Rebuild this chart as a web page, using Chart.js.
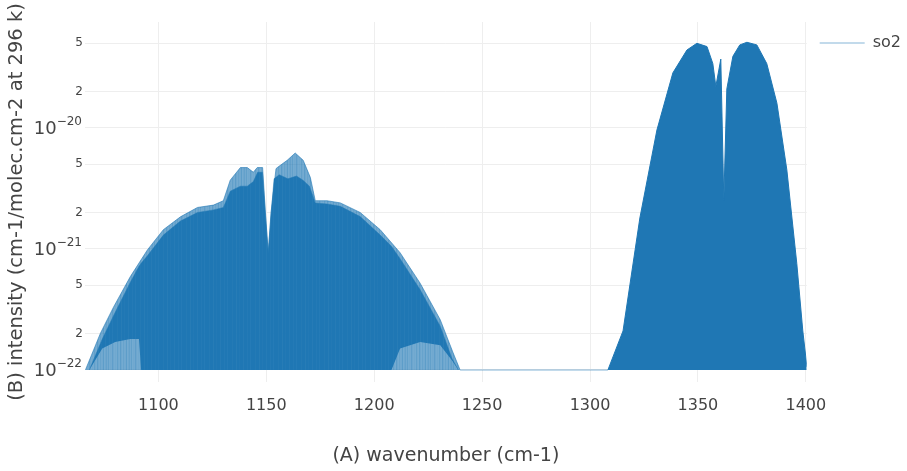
<!DOCTYPE html>
<html>
<head>
<meta charset="utf-8">
<script src="https://cdn.jsdelivr.net/npm/chart.js@4/dist/chart.umd.min.js"></script>
<style>
  html, body { margin: 0; padding: 0; background: #fff; }
  #wrap { width: 907px; height: 471px; }
</style>
</head>
<body>
<div id="wrap"><canvas id="chart" width="907" height="471"></canvas></div>
<script>
// tick labels
const xTicks = [1100, 1150, 1200, 1250, 1300, 1350, 1400];
const yTicks = [1e-22, 2e-22, 5e-22, 1e-21, 2e-21, 5e-21, 1e-20, 2e-20, 5e-20];

// left band - outer envelope of the sticks
const leftWn = [1066.2, 1073.1, 1079.2, 1087.0, 1094.9, 1102.3, 1110.2, 1118.1, 1125.5, 1130.1,
  1133.3, 1138.0, 1141.2, 1144.0, 1145.8, 1148.3, 1149.6, 1150.9, 1152.2, 1154.5,
  1155.1, 1159.7, 1163.4, 1167.1, 1170.4, 1172.7, 1178.2, 1184.3, 1193.5, 1202.8,
  1212.0, 1221.3, 1230.6, 1236.6, 1239.8];
const leftOuter = [1.0e-22, 2.0e-22, 3.3e-22, 5.9e-22, 9.8e-22, 1.44e-21, 1.84e-21, 2.2e-21, 2.3e-21, 2.5e-21,
  3.7e-21, 4.7e-21, 4.7e-21, 4.3e-21, 4.7e-21, 4.7e-21, 2.0e-21, 9.3e-22, 2.0e-21, 4.6e-21,
  4.7e-21, 5.4e-21, 6.2e-21, 5.4e-21, 3.9e-21, 2.5e-21, 2.5e-21, 2.4e-21, 2.0e-21, 1.44e-21,
  9.3e-22, 5.2e-22, 2.6e-22, 1.38e-22, 1.0e-22];

// left band - dense (dark) part, top and bottom
const leftInnerWn = [1068.0, 1074.0, 1080.0, 1087.0, 1091.0, 1092.0, 1095.0, 1102.3, 1110.2, 1118.1,
  1125.5, 1130.1, 1133.3, 1138.0, 1141.2, 1144.0, 1146.0, 1148.2, 1149.6, 1150.9,
  1152.2, 1153.6, 1156.0, 1160.0, 1164.0, 1167.0, 1170.0, 1172.7, 1178.2, 1184.3,
  1193.5, 1202.8, 1208.0, 1212.0, 1221.3, 1230.6, 1236.0, 1239.0];
const leftInnerTop = [1.0e-22, 1.8e-22, 3.0e-22, 5.3e-22, 7.2e-22, 7.6e-22, 8.8e-22, 1.3e-21, 1.7e-21, 2.0e-21,
  2.1e-21, 2.2e-21, 3.0e-21, 3.3e-21, 3.3e-21, 3.6e-21, 4.3e-21, 4.3e-21, 1.9e-21, 9.3e-22,
  1.9e-21, 3.8e-21, 4.1e-21, 3.8e-21, 4.0e-21, 3.7e-21, 3.3e-21, 2.4e-21, 2.35e-21, 2.25e-21,
  1.85e-21, 1.3e-21, 1.05e-21, 8.3e-22, 4.6e-22, 2.3e-22, 1.25e-22, 1.0e-22];
const leftInnerFloor = [1.0e-22, 1.5e-22, 1.7e-22, 1.8e-22, 1.8e-22, 1.0e-22, 1.0e-22, 1.0e-22, 1.0e-22, 1.0e-22,
  1.0e-22, 1.0e-22, 1.0e-22, 1.0e-22, 1.0e-22, 1.0e-22, 1.0e-22, 1.0e-22, 1.0e-22, 1.0e-22,
  1.0e-22, 1.0e-22, 1.0e-22, 1.0e-22, 1.0e-22, 1.0e-22, 1.0e-22, 1.0e-22, 1.0e-22, 1.0e-22,
  1.0e-22, 1.0e-22, 1.0e-22, 1.5e-22, 1.7e-22, 1.6e-22, 1.2e-22, 1.0e-22];

// right band
const rightWn = [1308.3, 1315.3, 1323.1, 1331.0, 1338.4, 1344.9, 1349.5, 1354.2, 1356.9, 1358.3,
  1360.6, 1362.0, 1363.4, 1366.2, 1369.4, 1372.7, 1377.3, 1381.9, 1386.6, 1391.2,
  1395.8, 1398.6, 1400.5];
const rightTop = [1.0e-22, 2.1e-22, 1.8e-21, 9.6e-21, 2.85e-20, 4.4e-20, 5.0e-20, 4.7e-20, 3.4e-20, 2.2e-20,
  3.7e-20, 2.5e-21, 2.1e-20, 3.9e-20, 4.85e-20, 5.1e-20, 4.85e-20, 3.4e-20, 1.6e-20, 4.5e-21,
  7.6e-22, 2.1e-22, 1.06e-22];

// weak lines between the bands
const gapWn = [1239.8, 1308.3];
const gapLevel = [1.0e-22, 1.0e-22];

const BLUE = "31,119,180";
const FONT = "'DejaVu Sans', Verdana, sans-serif";
const toPts = (xs, ys) => xs.map((x, i) => ({ x: x, y: ys[i] }));

// vertical streaks so the filled bands look like many overlapping sticks
function streaks(alphas) {
  const c = document.createElement("canvas");
  c.width = alphas.length;
  c.height = 1;
  const g = c.getContext("2d");
  alphas.forEach((a, i) => {
    g.fillStyle = "rgba(" + BLUE + "," + a + ")";
    g.fillRect(i, 0, 1, 1);
  });
  return g.createPattern(c, "repeat");
}

// plotly-like 10^n labels for the decades
const decadeLabels = {
  id: "decadeLabels",
  afterDraw(chart) {
    const ctx = chart.ctx;
    const ys = chart.scales.y;
    ctx.save();
    ctx.fillStyle = "#444";
    ctx.textBaseline = "middle";
    ctx.textAlign = "right";
    yTicks.forEach((v) => {
      const e = Math.round(Math.log10(v));
      if (Math.abs(Math.log10(v) - e) > 1e-6) return;
      const py = ys.getPixelForValue(v);
      const sup = "\u2212" + Math.abs(e);
      ctx.font = "12px " + FONT;
      const w = ctx.measureText(sup).width;
      ctx.fillText(sup, 82, py - 6);
      ctx.font = "18px " + FONT;
      ctx.fillText("10", 82 - w, py + 1);
    });
    ctx.restore();
  },
};

function mainEvent() {
  const ctx = document.getElementById("chart");
  const lightFill = streaks([0.64, 0.62, 0.7, 0.64, 0.62, 0.72, 0.65, 0.62, 0.68, 0.63, 0.64, 0.72, 0.62, 0.65, 0.69, 0.63, 0.7, 0.62, 0.64, 0.63, 0.71, 0.65, 0.62]);
  const darkFill = streaks([1, 1, 0.93, 1, 1, 1, 0.9, 1, 1, 0.96, 1, 1, 1, 0.92, 1, 1, 1, 0.94, 1, 1, 0.91, 1, 1]);
  new Chart(ctx, {
    type: "line",
    data: {
      datasets: [
        {
          label: "so2",
          data: toPts(gapWn, gapLevel),
          borderColor: "rgba(" + BLUE + ",0.27)",
          borderWidth: 2,
          fill: false,
        },
        {
          label: "so2 right",
          data: toPts(rightWn, rightTop),
          borderColor: "rgba(" + BLUE + ",1)",
          backgroundColor: "rgba(" + BLUE + ",1)",
          borderWidth: 1,
          fill: { value: 1e-22 },
        },
        {
          label: "so2 left dense",
          data: toPts(leftInnerWn, leftInnerTop),
          borderColor: "rgba(" + BLUE + ",0.45)",
          backgroundColor: darkFill,
          borderWidth: 1,
          fill: "+1",
        },
        {
          label: "floor",
          data: toPts(leftInnerWn, leftInnerFloor),
          borderColor: "rgba(0,0,0,0)",
          borderWidth: 0,
          fill: false,
        },
        {
          label: "so2 left",
          data: toPts(leftWn, leftOuter),
          borderColor: "rgba(" + BLUE + ",0.6)",
          backgroundColor: lightFill,
          borderWidth: 1,
          fill: { value: 1e-22 },
        },
      ],
    },
    options: {
      responsive: false,
      animation: false,
      layout: { padding: { top: 22, left: 0, right: -4, bottom: 0 } },
      elements: { point: { radius: 0 }, line: { tension: 0 } },
      plugins: {
        tooltip: { enabled: false },
        legend: {
          position: "right",
          align: "start",
          labels: {
            boxWidth: 45,
            boxHeight: 2,
            padding: 13,
            color: "#444",
            font: { family: FONT, size: 16 },
            generateLabels: () => [
              {
                text: "so2",
                fillStyle: "rgba(" + BLUE + ",0.27)",
                strokeStyle: "rgba(0,0,0,0)",
                lineWidth: 0,
                datasetIndex: 0,
                fontColor: "#444",
              },
            ],
          },
        },
      },
      scales: {
        x: {
          type: "linear",
          min: 1066,
          max: 1400.4,
          afterBuildTicks: (s) => { s.ticks = xTicks.map((v) => ({ value: v })); },
          afterFit: (s) => { s.height = 89; },
          border: { display: false },
          grid: { color: "#eeeeee", drawTicks: false },
          ticks: {
            padding: 14,
            color: "#444",
            font: { family: FONT, size: 16 },
            maxRotation: 0,
            callback: (v) => String(v),
          },
          title: {
            display: true,
            text: "(A) wavenumber (cm-1)",
            color: "#444",
            font: { family: FONT, size: 19 },
            padding: { top: 0, bottom: 4 },
          },
        },
        y: {
          type: "logarithmic",
          min: Math.pow(10, -22.1),
          max: 7.5e-20,
          afterBuildTicks: (s) => { s.ticks = yTicks.map((v) => ({ value: v })); },
          afterFit: (s) => { s.width = 85; },
          border: { display: false },
          grid: { color: "#eeeeee", drawTicks: false },
          ticks: {
            padding: 2,
            color: "#444",
            font: { family: FONT, size: 12 },
            callback: (v) => {
              const m = Math.round(v / Math.pow(10, Math.floor(Math.log10(v) + 1e-9)));
              return m === 1 ? "" : String(m);
            },
          },
          title: {
            display: true,
            text: "(B) intensity (cm-1/molec.cm-2 at 296 k)",
            color: "#444",
            font: { family: FONT, size: 19.5 },
            padding: { top: 5, bottom: 0 },
          },
        },
      },
    },
    plugins: [decadeLabels],
  });
}
document.addEventListener("DOMContentLoaded", () => mainEvent());
</script>
</body>
</html>
